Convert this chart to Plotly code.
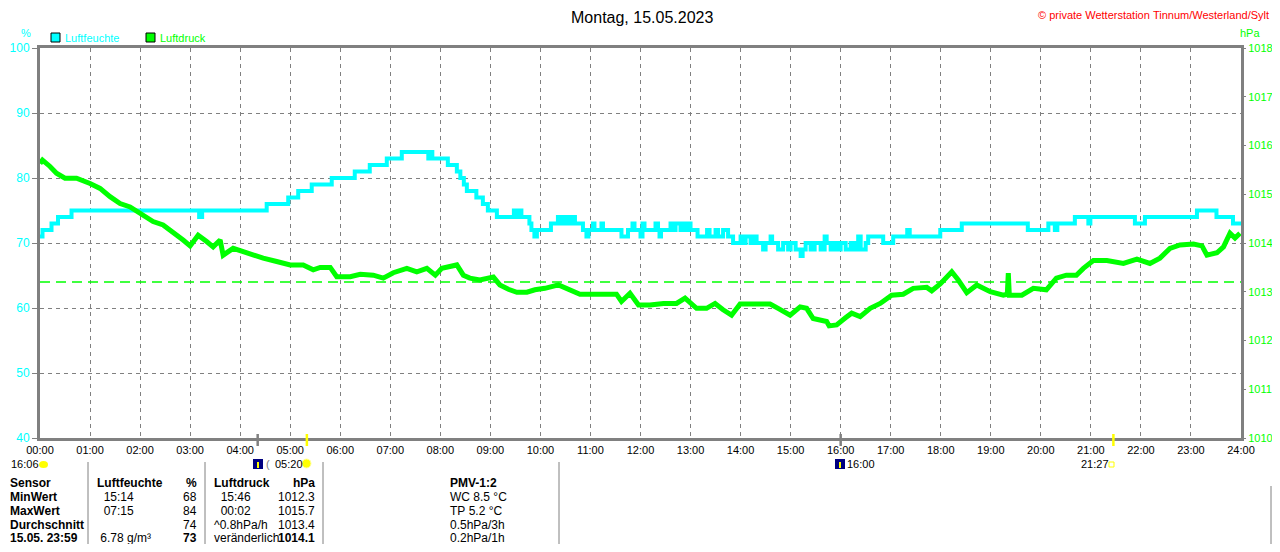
import plotly.graph_objects as go

# Luftfeuchte (%) - Stufenwerte: Zeit in Stunden, Wert
feuchte_h = [0.00, 0.05, 0.23, 0.36, 0.63, 3.18, 3.24, 4.53, 4.96, 5.16, 5.43, 5.83, 6.29, 6.59,
             6.93, 7.23, 7.76, 7.79, 7.84, 8.15, 8.33, 8.40, 8.47, 8.53, 8.72, 8.85, 8.95, 9.13,
             9.47, 9.52, 9.58, 9.62, 9.78, 9.82, 9.88, 9.93, 10.21, 10.35, 10.40, 10.43, 10.50,
             10.53, 10.60, 10.63, 10.69, 10.85, 10.92, 10.96, 11.05, 11.08, 11.22, 11.25, 11.62,
             11.75, 11.84, 11.88, 12.00, 12.04, 12.08, 12.30, 12.35, 12.38, 12.41, 12.60, 12.66,
             12.70, 12.80, 12.84, 12.92, 12.95, 13.00, 13.14, 13.33, 13.38, 13.50, 13.55, 13.65,
             13.75, 13.85, 14.00, 14.05, 14.10, 14.20, 14.25, 14.32, 14.45, 14.50, 14.60, 14.63,
             14.75, 14.85, 14.95, 15.00, 15.10, 15.20, 15.24, 15.30, 15.40, 15.48, 15.60, 15.68,
             15.72, 15.80, 15.85, 15.92, 16.00, 16.10, 16.20, 16.28, 16.35, 16.40, 16.50, 16.55,
             16.62, 16.85, 17.05, 17.33, 17.38, 17.99, 18.42, 19.74, 20.15, 20.28, 20.33, 20.68,
             20.95, 20.99, 21.88, 22.08, 23.12, 23.51, 23.84, 24.00]
feuchte_v = [71, 72, 73, 74, 75, 74, 75, 76, 77, 78, 79, 80, 81, 82,
             83, 84, 83, 84, 83, 82, 81, 80, 79, 78, 77, 76, 75, 74,
             75, 74, 75, 74, 73, 72, 71, 72, 73, 74, 73, 74, 73,
             74, 73, 74, 73, 72, 71, 72, 73, 72, 73, 72, 71,
             72, 73, 72, 71, 73, 72, 73, 72, 71, 72, 73, 72,
             73, 72, 73, 72, 73, 72, 71, 72, 71, 72, 71, 72,
             71, 70, 71, 70, 71, 70, 71, 70, 69, 70, 71, 70,
             69, 70, 69, 70, 69, 68, 69, 70, 69, 70, 69, 71,
             70, 69, 70, 69, 70, 69, 70, 69, 71, 69, 70, 71,
             71, 70, 71, 72, 71, 72, 73, 72, 73, 72, 73, 74,
             73, 74, 73, 74, 75, 74, 73, 73]

# Luftdruck (hPa)
druck_h = [0.00, 0.05, 0.20, 0.33, 0.50, 0.73, 1.00, 1.20, 1.40, 1.60, 1.80, 2.00, 2.26, 2.46,
           2.66, 2.86, 3.00, 3.16, 3.33, 3.46, 3.60, 3.66, 3.86, 4.06, 4.26, 4.46, 4.73, 5.00,
           5.26, 5.46, 5.60, 5.80, 5.93, 6.20, 6.40, 6.66, 6.86, 7.06, 7.33, 7.53, 7.73, 7.90,
           8.03, 8.19, 8.33, 8.46, 8.59, 8.79, 9.06, 9.19, 9.36, 9.53, 9.73, 9.89, 10.09, 10.36,
           10.59, 10.79, 11.12, 11.52, 11.62, 11.79, 11.96, 12.19, 12.46, 12.72, 12.89, 13.12,
           13.32, 13.49, 13.65, 13.82, 13.99, 14.32, 14.59, 14.75, 14.99, 15.19, 15.32, 15.45,
           15.72, 15.77, 15.92, 16.09, 16.22, 16.39, 16.59, 16.79, 17.02, 17.25, 17.45, 17.72,
           17.82, 17.99, 18.22, 18.35, 18.52, 18.72, 18.99, 19.25, 19.33, 19.35, 19.37, 19.62,
           19.85, 20.11, 20.31, 20.51, 20.71, 20.85, 21.05, 21.32, 21.65, 21.92, 22.18, 22.38,
           22.58, 22.78, 23.05, 23.22, 23.32, 23.52, 23.65, 23.78, 23.88, 23.98]
druck_v = [1015.63, 1015.70, 1015.57, 1015.43, 1015.33, 1015.33, 1015.22, 1015.12, 1014.95,
           1014.81, 1014.74, 1014.61, 1014.44, 1014.37, 1014.23, 1014.06, 1013.94, 1014.16,
           1014.03, 1013.92, 1014.06, 1013.75, 1013.89, 1013.82, 1013.75, 1013.69, 1013.62,
           1013.55, 1013.55, 1013.45, 1013.50, 1013.50, 1013.31, 1013.31, 1013.36, 1013.34,
           1013.28, 1013.39, 1013.48, 1013.41, 1013.48, 1013.34, 1013.48, 1013.51, 1013.55,
           1013.34, 1013.28, 1013.24, 1013.30, 1013.14, 1013.05, 1012.99, 1012.99, 1013.04,
           1013.07, 1013.14, 1013.04, 1012.95, 1012.95, 1012.95, 1012.80, 1012.97, 1012.73,
           1012.73, 1012.76, 1012.76, 1012.87, 1012.66, 1012.66, 1012.76, 1012.63, 1012.52,
           1012.75, 1012.75, 1012.75, 1012.66, 1012.52, 1012.69, 1012.66, 1012.45, 1012.39,
           1012.30, 1012.32, 1012.46, 1012.56, 1012.49, 1012.66, 1012.76, 1012.93, 1012.95,
           1013.07, 1013.09, 1013.02, 1013.16, 1013.41, 1013.24, 1012.98, 1013.14, 1013.00,
           1012.93, 1012.95, 1013.38, 1012.93, 1012.93, 1013.07, 1013.04, 1013.28, 1013.34,
           1013.34, 1013.48, 1013.64, 1013.64, 1013.58, 1013.67, 1013.58, 1013.69, 1013.89,
           1013.96, 1013.98, 1013.94, 1013.75, 1013.80, 1013.92, 1014.20, 1014.10, 1014.20]

druck_linie = 1013.2

stunden = list(range(25))
stunden_text = ["%02d:00" % h for h in stunden]

# Mond-/Sonnenzeiten unter der Zeitachse
marker_zeiten = [4.35, 5.333, 16.0, 21.45]
marker_farben = ["#808080", "#FFFF00", "#808080", "#FFFF00"]

# Tabelle unten
tab_zeilen = ["Sensor", "MinWert", "MaxWert", "Durchschnitt", "15.05. 23:59"]
tab_feuchte_zeit = ["Luftfeuchte", "  15:14", "  07:15", "", " 6.78 g/m³"]
tab_feuchte_wert = ["%", "68", "84", "74", "73"]
tab_druck_zeit = ["Luftdruck", "  15:46", "  00:02", "^0.8hPa/h", "veränderlich"]
tab_druck_wert = ["hPa", "1012.3", "1015.7", "1013.4", "1014.1"]
tab_pmv = ["PMV-1:2", "WC 8.5 °C", "TP 5.2 °C", "0.5hPa/3h", "0.2hPa/1h"]

CYAN = "#00FFFF"
GRUEN = "#00FF00"
GRAU = "#808080"
FONT = "Liberation Sans"

# Seite hat 8px Rand: Figur so klein, dass nichts ueberlaeuft
RAND = 8
W, H = 1280 - 2 * RAND, 552 - 2 * RAND
# Plotbereich in Pixeln der Vorlage
L, R, T, B = 40, 1241, 48, 438


def px(x):
    return (x - L) / (R - L)


def py(y):
    return (B - y) / (B - T)


def schrift(size=11, color="black", bold=False):
    return dict(size=size, color=color, family=FONT, weight="bold" if bold else "normal")


def text(t, x, y, anchor="left", **kw):
    return dict(text=t.replace(" ", "&nbsp;"), x=px(x), y=py(y), xref="paper", yref="paper",
                xanchor=anchor, yanchor="middle", showarrow=False, font=schrift(**kw))


fig = go.Figure()

fig.add_trace(go.Scatter(
    x=feuchte_h, y=feuchte_v, mode="lines", line_shape="hv",
    line=dict(color=CYAN, width=4), name="Luftfeuchte", yaxis="y"
))

fig.add_trace(go.Scatter(
    x=druck_h, y=druck_v, mode="lines",
    line=dict(color=GRUEN, width=5), name="Luftdruck", yaxis="y2"
))

shapes = []
annots = []

shapes.append(dict(type="line", xref="x", yref="y2", x0=0, x1=24, y0=druck_linie, y1=druck_linie,
                   line=dict(color=GRUEN, width=1.5, dash="10px,6px")))

for t, c in zip(marker_zeiten, marker_farben):
    shapes.append(dict(type="line", xref="x", yref="paper", x0=t, x1=t, y0=py(446), y1=py(434),
                       line=dict(color=c, width=2.5)))

# Titel und Kopfzeile
annots.append(text("Montag, 15.05.2023", 642, 17, anchor="center", size=16))
annots.append(text("© private Wetterstation Tinnum/Westerland/Sylt", 1271, 15, anchor="right",
                   size=11, color="#FF0000"))
annots.append(text("%", 26, 33, anchor="center", color=CYAN))
annots.append(text("hPa", 1250, 33, anchor="center", color=GRUEN))

# Legende
for x0, farbe, name in [(51, CYAN, "Luftfeuchte"), (146, GRUEN, "Luftdruck")]:
    shapes.append(dict(type="rect", xref="paper", yref="paper", x0=px(x0), x1=px(x0 + 9),
                       y0=py(42), y1=py(33), fillcolor=farbe, line=dict(color="black", width=1)))
    annots.append(text(name, x0 + 12, 38, color=farbe))

# Mond / Sonne Symbole
annots.append(text("16:06", 9, 464))
shapes.append(dict(type="circle", xref="paper", yref="paper", x0=px(39), x1=px(48), y0=py(468),
                   y1=py(461), fillcolor="#FFFF00", line=dict(color="#FFFF00", width=0)))
for x0 in [253, 835]:
    shapes.append(dict(type="rect", xref="paper", yref="paper", x0=px(x0), x1=px(x0 + 10),
                       y0=py(469), y1=py(459), fillcolor="#000080", line=dict(width=0)))
    shapes.append(dict(type="rect", xref="paper", yref="paper", x0=px(x0 + 4), x1=px(x0 + 6),
                       y0=py(468), y1=py(462), fillcolor="#FFFF00", line=dict(width=0)))
annots.append(text("(", 264, 464, color=GRAU))
annots.append(text("05:20", 273, 464))
shapes.append(dict(type="circle", xref="paper", yref="paper", x0=px(302), x1=px(311), y0=py(468),
                   y1=py(459), fillcolor="#FFFF00", line=dict(color="#FFFFA0", width=1)))
annots.append(text("16:00", 845, 464))
annots.append(text("21:27", 1079, 464))
shapes.append(dict(type="rect", xref="paper", yref="paper", x0=px(1109), x1=px(1114), y0=py(467),
                   y1=py(462), line=dict(color="#FFFF00", width=1)))

# Tabelle
for sx in [88, 205, 323, 559]:
    shapes.append(dict(type="line", xref="paper", yref="paper", x0=px(sx), x1=px(sx),
                       y0=py(552), y1=py(462), line=dict(color=GRAU, width=1)))
shapes.append(dict(type="line", xref="paper", yref="paper", x0=px(1271), x1=px(1271),
                   y0=py(552), y1=py(486), line=dict(color=GRAU, width=1)))

zeilen_y = [483, 497, 511, 525, 538]
for i, yy in enumerate(zeilen_y):
    kopf = i == 0
    letzte = i == 4
    annots.append(text(tab_zeilen[i], 8, yy, size=12, bold=True))
    annots.append(text(tab_feuchte_zeit[i], 95, yy, size=12, bold=kopf))
    annots.append(text(tab_feuchte_wert[i], 199, yy, anchor="right", size=12, bold=kopf or letzte))
    annots.append(text(tab_druck_zeit[i], 212, yy, size=12, bold=kopf))
    annots.append(text(tab_druck_wert[i], 317, yy, anchor="right", size=12, bold=kopf or letzte))
    annots.append(text(tab_pmv[i], 448, yy, size=12, bold=kopf))

fig.update_layout(
    width=W, height=H,
    margin=dict(l=L - RAND, r=W + RAND - R, t=T - RAND, b=H + RAND - B, autoexpand=False),
    plot_bgcolor="white", paper_bgcolor="white",
    showlegend=False,
    font=dict(family=FONT, size=11, color="black"),
    xaxis=dict(range=[0, 24], tickvals=stunden, ticktext=stunden_text, showgrid=True,
               gridcolor=GRAU, gridwidth=1, griddash="4px,4px", showline=True, linecolor=GRAU,
               linewidth=3, mirror=True, zeroline=False, ticks="", automargin=False,
               tickfont=dict(size=11, color="black")),
    yaxis=dict(range=[40, 100], dtick=10, showgrid=True, gridcolor=GRAU, gridwidth=1,
               griddash="4px,4px", showline=True, linecolor=GRAU, linewidth=3, mirror=True,
               zeroline=False, ticks="outside", ticklen=5, tickcolor=GRAU, automargin=False,
               tickfont=dict(size=12, color=CYAN)),
    yaxis2=dict(range=[1010, 1018], dtick=1, overlaying="y", side="right", showgrid=False,
                zeroline=False, ticks="outside", ticklen=4, tickcolor=GRAU, showline=False,
                automargin=False, tickfont=dict(size=11, color=GRUEN)),
    annotations=annots,
    shapes=shapes,
)

fig.write_html("out.html")
